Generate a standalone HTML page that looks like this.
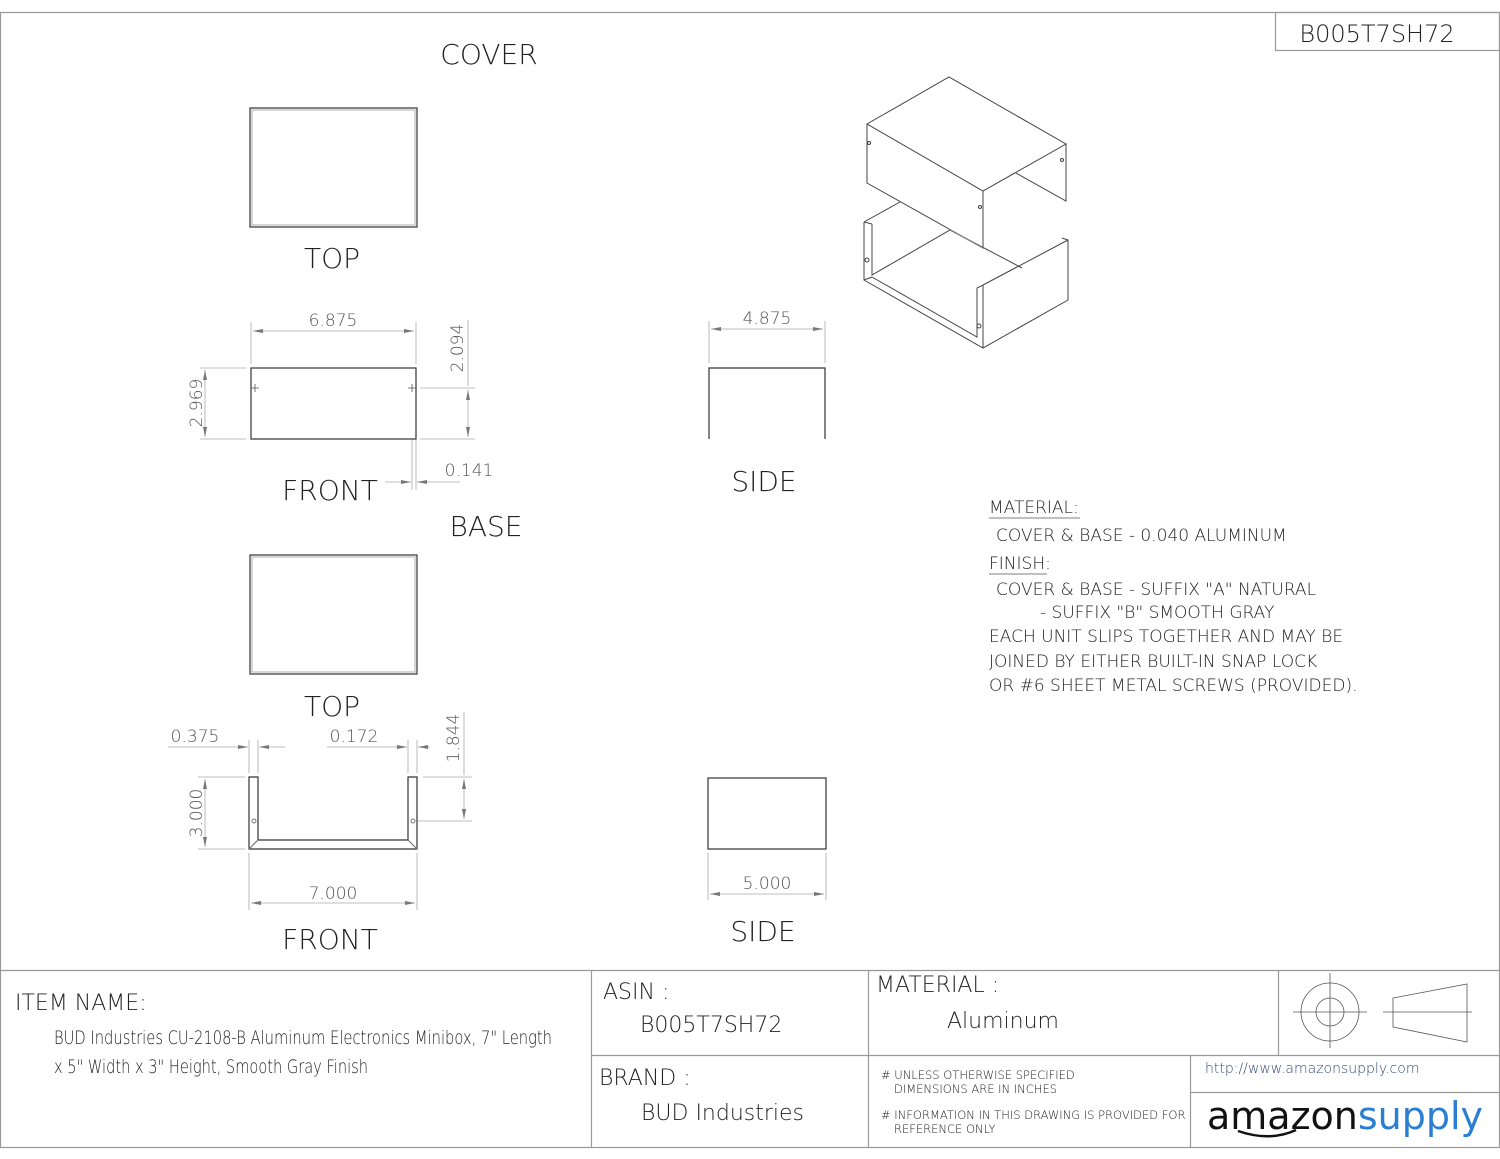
<!DOCTYPE html>
<html><head><meta charset="utf-8"><style>
html,body{margin:0;padding:0;background:#fff;}
svg{display:block}
text{font-family:"DejaVu Sans","Liberation Sans",sans-serif;fill:#222;}
.t{font-family:"Liberation Sans",sans-serif;}
</style></head><body>
<svg width="1500" height="1159" viewBox="0 0 1500 1159" xmlns="http://www.w3.org/2000/svg">
<defs>
<marker id="a" viewBox="0 0 10 4" refX="10" refY="2" markerWidth="14" markerHeight="4" markerUnits="userSpaceOnUse" orient="auto-start-reverse"><path d="M0,0 L10,2 L0,4z" fill="#777"/></marker>
</defs>
<g fill="none" stroke="#999" stroke-width="1.2">
<rect x="0.5" y="12.5" width="1499" height="1135"/>
<rect x="1275.5" y="12.5" width="224" height="38"/>
<line x1="0" y1="970.5" x2="1500" y2="970.5"/>
<line x1="591.5" y1="970" x2="591.5" y2="1147"/>
<line x1="868.5" y1="970" x2="868.5" y2="1147"/>
<line x1="1278.5" y1="970" x2="1278.5" y2="1055"/>
<line x1="591" y1="1055.5" x2="1500" y2="1055.5"/>
<line x1="1190.5" y1="1055" x2="1190.5" y2="1147"/>
<line x1="1190" y1="1092.5" x2="1500" y2="1092.5"/>
</g>
<g font-weight="300" class="t">
<text x="1377" y="42" font-size="24" text-anchor="middle">B005T7SH72</text>
<text x="489" y="64" font-size="28" text-anchor="middle">COVER</text>
<text x="332" y="268" font-size="28" text-anchor="middle">TOP</text>
<text x="330" y="500" font-size="28" text-anchor="middle">FRONT</text>
<text x="486" y="536" font-size="28" text-anchor="middle">BASE</text>
<text x="764" y="491" font-size="28" text-anchor="middle">SIDE</text>
<text x="332" y="716" font-size="28" text-anchor="middle">TOP</text>
<text x="330" y="949" font-size="28" text-anchor="middle">FRONT</text>
<text x="763" y="941" font-size="28" text-anchor="middle">SIDE</text>
</g>
<!-- Cover top view -->
<g fill="none" stroke="#333" stroke-width="1.2">
<rect x="250" y="108" width="167" height="119"/>
<rect x="252" y="110" width="163" height="115" stroke="#bbb"/>
<rect x="250" y="555" width="167" height="119"/>
<rect x="252" y="557" width="163" height="115" stroke="#bbb"/>
<!-- cover front -->
<rect x="251" y="368" width="165" height="71"/>
<!-- cover side -->
<path d="M709 439 V368 H825 V439"/>
<!-- base side -->
<rect x="708" y="778" width="118" height="71"/>
<!-- base front -->
<path d="M249 777 H258 V840 H408 V777 H417 V849 H249 Z"/>
<path d="M258 840 L249 849 M408 840 L417 849" stroke="#777"/>
</g>
<g stroke="#555" stroke-width="0.8" fill="none">
<path d="M251 388h8M255 384v8M408 388h8M412 384v8"/>
<circle cx="254" cy="821" r="2"/><circle cx="413" cy="821" r="2"/>
</g>
<!-- dimensions -->
<g stroke="#aaa" stroke-width="0.8" fill="none">
<path d="M251 322V364M416 322V364"/>
<line x1="253" y1="331" x2="414" y2="331" marker-start="url(#a)" marker-end="url(#a)"/>
<path d="M200 368H246M200 439H246"/>
<line x1="205" y1="370" x2="205" y2="437" marker-start="url(#a)" marker-end="url(#a)"/>
<path d="M420 388H475M420 439H475M468 320V386"/>
<line x1="468" y1="390" x2="468" y2="437" marker-start="url(#a)" marker-end="url(#a)"/>
<path d="M412 440V490M416 440V490"/>
<line x1="385" y1="482" x2="411" y2="482" marker-end="url(#a)"/>
<line x1="460" y1="482" x2="417" y2="482" marker-end="url(#a)"/>
<path d="M709 321V363M825 321V363"/>
<line x1="711" y1="329" x2="823" y2="329" marker-start="url(#a)" marker-end="url(#a)"/>
<!-- base -->
<path d="M249 740V773M258 740V773M408 740V773M417 740V773"/>
<line x1="168" y1="747" x2="248" y2="747" marker-end="url(#a)"/>
<line x1="285" y1="747" x2="259" y2="747" marker-end="url(#a)"/>
<line x1="327" y1="747" x2="407" y2="747" marker-end="url(#a)"/>
<line x1="430" y1="747" x2="418" y2="747" marker-end="url(#a)"/>
<path d="M198 777H245M198 849H245"/>
<line x1="205" y1="779" x2="205" y2="847" marker-start="url(#a)" marker-end="url(#a)"/>
<path d="M423 777H472M418 821H472M464 712V775"/>
<line x1="464" y1="779" x2="464" y2="819" marker-start="url(#a)" marker-end="url(#a)"/>
<path d="M249 853V910M417 853V910"/>
<line x1="251" y1="903" x2="415" y2="903" marker-start="url(#a)" marker-end="url(#a)"/>
<path d="M708 853V900M826 853V900"/>
<line x1="710" y1="894" x2="824" y2="894" marker-start="url(#a)" marker-end="url(#a)"/>
</g>
<g font-size="17" fill="#555" class="t" font-weight="300">
<text x="333" y="326" text-anchor="middle" style="fill:#555">6.875</text>
<text transform="translate(202,403) rotate(-90)" text-anchor="middle" style="fill:#555">2.969</text>
<text transform="translate(463,348) rotate(-90)" text-anchor="middle" style="fill:#555">2.094</text>
<text x="469" y="476" text-anchor="middle" style="fill:#555">0.141</text>
<text x="767" y="324" text-anchor="middle" style="fill:#555">4.875</text>
<text x="195" y="742" text-anchor="middle" style="fill:#555">0.375</text>
<text x="354" y="742" text-anchor="middle" style="fill:#555">0.172</text>
<text transform="translate(459,738) rotate(-90)" text-anchor="middle" style="fill:#555">1.844</text>
<text transform="translate(202,813) rotate(-90)" text-anchor="middle" style="fill:#555">3.000</text>
<text x="333" y="899" text-anchor="middle" style="fill:#555">7.000</text>
<text x="767" y="889" text-anchor="middle" style="fill:#555">5.000</text>
</g>
<!-- isometric -->
<g fill="none" stroke="#444" stroke-width="1">
<path d="M867 124 L949 77 L1066 144 L983 191 Z"/>
<path d="M867 124 V183 L983 248 V191"/>
<path d="M1066 144 V201 L1016 173"/>
<path d="M864 222 L900 202 M864 222 V280 L983 348 L1068 300 V240 L1062 238"/>
<path d="M872 224 V275 L950 230 L1022 268"/>
<path d="M872 277 L977 337 V288 L983 285 V348"/>
<path d="M864 222 L872 224 M864 280 L872 277"/>
<path d="M983 285 L1068 240" />
<path d="M950 230 L983 248" stroke="#888"/>
<circle cx="869" cy="143" r="1.5"/><circle cx="1062" cy="160" r="1.5"/><circle cx="980" cy="207" r="1.5"/>
<circle cx="867" cy="260" r="2"/><circle cx="979" cy="326" r="2"/>
</g>
<!-- notes -->
<g font-size="17" class="t" font-weight="300">
<text x="989" y="513">MATERIAL:</text>
<line x1="989" y1="518" x2="1080" y2="518" stroke="#555" stroke-width="0.8"/>
<text x="996" y="541">COVER &amp; BASE - 0.040 ALUMINUM</text>
<text x="989" y="569">FINISH:</text>
<line x1="989" y1="574" x2="1047" y2="574" stroke="#555" stroke-width="0.8"/>
<text x="996" y="595">COVER &amp; BASE - SUFFIX "A" NATURAL</text>
<text x="1040" y="618">- SUFFIX "B" SMOOTH GRAY</text>
<text x="989" y="642">EACH UNIT SLIPS TOGETHER AND MAY BE</text>
<text x="989" y="667">JOINED BY EITHER BUILT-IN SNAP LOCK</text>
<text x="989" y="691">OR #6 SHEET METAL SCREWS (PROVIDED).</text>
</g>
<!-- title block -->
<g class="t" font-weight="300">
<text x="15" y="1010" font-size="22">ITEM NAME:</text>
<text x="54" y="1044" font-size="19" textLength="498" lengthAdjust="spacingAndGlyphs">BUD Industries CU-2108-B Aluminum Electronics Minibox, 7" Length</text>
<text x="54" y="1073" font-size="19" textLength="314" lengthAdjust="spacingAndGlyphs">x 5" Width x 3" Height, Smooth Gray Finish</text>
<text x="603" y="999" font-size="22">ASIN :</text>
<text x="640" y="1032" font-size="22">B005T7SH72</text>
<text x="599" y="1085" font-size="22">BRAND :</text>
<text x="641" y="1120" font-size="22">BUD Industries</text>
<text x="876" y="992" font-size="22">MATERIAL :</text>
<text x="947" y="1028" font-size="22">Aluminum</text>
<text x="881" y="1079" font-size="11.5"># UNLESS OTHERWISE SPECIFIED</text>
<text x="894" y="1093" font-size="11.5">DIMENSIONS ARE IN INCHES</text>
<text x="881" y="1119" font-size="11.5"># INFORMATION IN THIS DRAWING IS PROVIDED FOR</text>
<text x="894" y="1133" font-size="11.5">REFERENCE ONLY</text>
<text x="1205" y="1073" font-size="14" style="fill:#3a4a7a">http://www.amazonsupply.com</text>
<text x="1207" y="1129" font-size="38" style="fill:#111" font-weight="400">amazon<tspan style="fill:#2a7fd4">supply</tspan></text>
</g>
<path d="M1238 1131 Q1270 1142 1296 1130" fill="none" stroke="#111" stroke-width="2.5"/>
<g fill="none" stroke="#555" stroke-width="0.8">
<circle cx="1330" cy="1012" r="29"/><circle cx="1330" cy="1012" r="14"/>
<path d="M1293 1012H1367M1330 973V1048"/>
<path d="M1393 998 L1467 984 V1042 L1393 1027 Z M1383 1012H1472"/>
</g>
</svg>
</body></html>
